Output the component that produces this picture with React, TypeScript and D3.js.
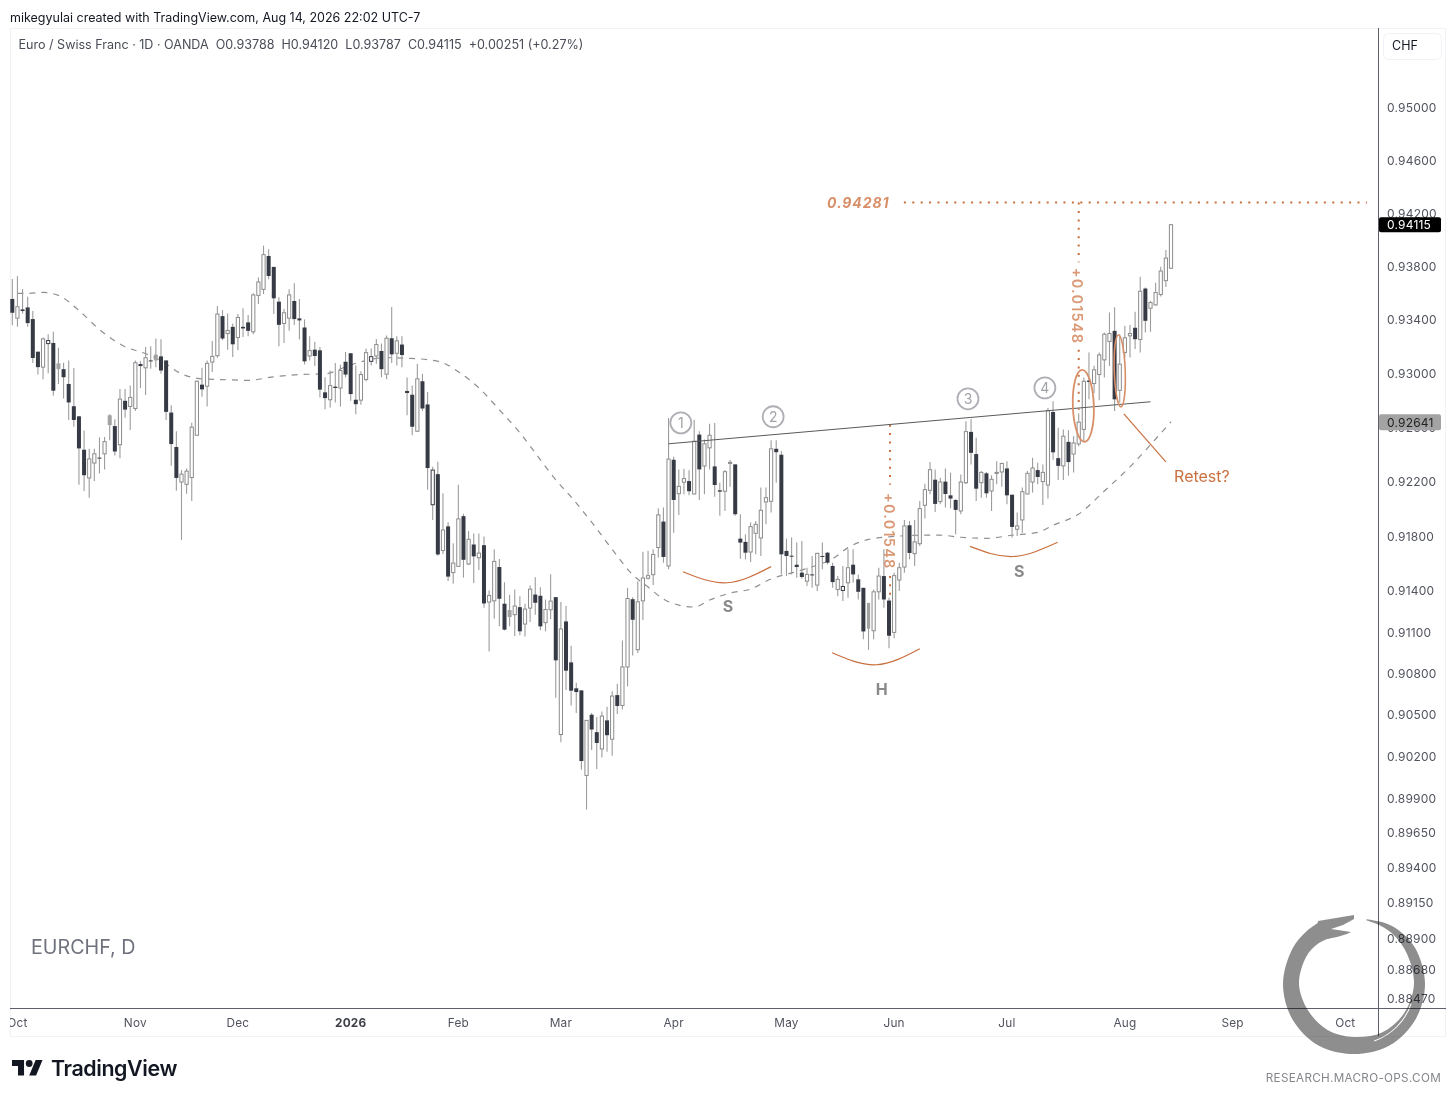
import React, { useRef, useEffect } from 'react';
import * as d3 from 'd3';

// prices are in points (1 point = 0.00001 CHF)
const opens = [93558,93415,93480,93495,93408,93165,93050,93225,93230,93078,
93035,92925,92760,92685,92438,92230,92340,92380,92408,92693,
92613,92475,92800,92758,92743,93073,93045,93100,93143,93130,
93100,92713,92458,92200,92183,92233,92545,92920,92908,93088,
93135,93430,93300,93350,93270,93350,93383,93313,93585,93630,
93880,93798,93538,93375,93415,93543,93413,93345,93133,93180,
93175,92863,92808,92905,92895,93090,93153,92808,92805,92958,
93093,93133,93170,92998,93265,93153,93218,92873,92845,92575,
92945,92773,92033,92258,91697,91874,91535,91581,91949,91598,
91741,91644,91736,91320,91329,91576,91308,91262,91228,91283,
91160,91276,91375,91366,91170,91264,91356,90359,91179,90881,
90693,90678,90064,90502,90376,90255,90461,90325,90644,90569,
90848,91341,90973,91329,91494,91520,91719,91909,91584,92364,
92114,92198,92207,92112,92550,92318,92452,92315,92139,92132,
92337,92330,91784,91760,91686,91823,91789,92053,92058,92445,
92401,91694,91659,91593,91535,91473,91522,91444,91657,91681,
91584,91412,91405,91461,91593,91486,91424,91126,91111,91395,
91510,91331,91099,91481,91576,91882,91674,91747,92029,92139,
92217,92056,92203,92102,92068,91987,92195,92570,92406,92195,
92264,92134,92264,92274,92300,92107,91853,91921,92112,92200,
92288,92203,92178,92717,92376,92319,92496,92406,92481,92588,
92950,92928,92995,93104,93241,93320,92878,93159,93283,93343,
93256,93636,93489,93514,93591,93695,93788];

const highs = [93708,93728,93633,93575,93468,93165,93270,93295,93313,93195,
93083,93100,93043,92688,92580,92445,92445,92530,92533,92700,
92663,92888,92888,92913,93100,93095,93200,93205,93263,93258,
93100,92768,92575,92288,92300,92638,92950,93045,93100,93245,
93505,93475,93450,93375,93445,93488,93438,93600,93718,93958,
93930,93800,93570,93483,93630,93675,93558,93405,93280,93238,
93200,92975,93025,93080,93068,93163,93155,93063,93020,93188,
93188,93260,93225,93285,93498,93280,93280,92973,92913,93075,
93000,92865,92313,92350,92118,91905,91750,92179,91966,91840,
91821,91821,91799,91404,91707,91634,91465,91373,91412,91363,
91308,91441,91501,91429,91339,91523,91356,91320,91291,91002,
90734,90681,90461,90514,90485,90526,90560,90671,90727,91041,
91424,91356,91472,91687,91695,91707,92007,92012,92672,92386,
92293,92298,92286,92660,92575,92513,92631,92636,92195,92288,
92362,92330,91963,91816,91902,91914,92159,92159,92508,92508,
92428,91784,91792,91755,91767,91571,91657,91681,91755,91686,
91608,91510,91584,91706,91706,91522,91424,91314,91412,91571,
91706,91351,91535,91608,91921,91914,91921,92061,92188,92347,
92293,92232,92300,92269,92073,92256,92648,92665,92526,92281,
92274,92249,92354,92342,92354,92105,91975,92159,92281,92379,
92342,92330,92746,92796,92600,92588,92583,92538,92707,92973,
93159,93060,93159,93308,93457,93497,93295,93358,93363,93462,
93725,93643,93544,93680,93800,93924,94120];

const lows = [93362,93350,93450,93350,93080,92995,92960,93005,92838,92925,
92818,92658,92608,92180,92133,92085,92208,92263,92293,92508,
92395,92375,92675,92583,92725,92895,92843,93038,93050,93000,
92658,92320,92135,91775,92113,92060,92545,92830,92758,93013,
93120,93250,93180,93125,93175,93275,93280,93295,93520,93595,
93705,93445,93205,93230,93320,93363,93255,93070,93100,93058,
92825,92738,92750,92788,92758,92975,92800,92700,92770,92945,
93063,93075,92975,92960,93080,93063,93050,92693,92545,92570,
92725,92143,91920,91658,91671,91474,91453,91581,91499,91591,
91460,91554,91278,90961,91199,91143,91114,91143,91073,91078,
91070,91174,91228,91114,91107,91194,90625,90303,90681,90569,
90514,90105,89819,90248,90110,90194,90235,90206,90507,90540,
90707,90932,90949,91189,91484,91445,91646,91608,91559,91828,
91958,92110,92102,92110,92068,92110,92293,92092,91951,91987,
92166,91951,91637,91632,91613,91669,91657,91889,91975,92195,
91522,91510,91522,91498,91493,91437,91424,91400,91559,91596,
91424,91363,91327,91351,91461,91339,91050,90972,91050,91339,
91278,90984,91057,91400,91535,91632,91584,91730,91931,92110,
91980,92036,92012,92007,91816,91963,92183,92330,92061,92085,
92085,91987,92183,92166,92036,91792,91804,91828,92110,92122,
92183,92031,92078,92364,92215,92215,92247,92270,92463,92501,
92811,92856,92804,92973,93059,92724,92786,93122,93122,93184,
93159,93308,93313,93507,93576,93648,93787];

const closes = [93455,93500,93468,93378,93118,93050,93260,93248,92875,93035,
92975,92788,92658,92448,92250,92370,92408,92373,92498,92620,
92425,92813,92735,92825,93083,93058,93120,93095,93100,93025,
92718,92480,92230,92258,92280,92605,92945,92885,93078,93130,
93445,93263,93323,93220,93420,93338,93320,93588,93685,93890,
93730,93563,93365,93455,93588,93408,93398,93093,93173,93133,
92883,92820,92913,92895,93025,92995,92850,92775,92995,93158,
93128,93218,93035,93265,93145,93245,93140,92858,92608,92963,
92743,92303,92288,91668,91847,91506,91605,91929,91629,91779,
91654,91678,91310,91368,91617,91344,91119,91211,91291,91107,
91269,91414,91315,91143,91266,91327,90896,91124,90821,90676,
90666,90168,90461,90395,90298,90492,90354,90637,90565,90848,
91346,91191,91322,91496,91513,91668,91958,91650,92369,92068,
92168,92225,92132,92501,92293,92482,92545,92178,92129,92276,
92345,91963,91755,91681,91872,91889,91992,92085,92445,92420,
91669,91657,91652,91576,91503,91522,91515,91676,91650,91608,
91466,91486,91434,91571,91522,91395,91106,91314,91395,91510,
91339,91075,91513,91571,91877,91679,91760,92004,92144,92291,
92039,92200,92112,92078,91995,92200,92572,92415,92151,92271,
92117,92220,92271,92337,92102,91870,91877,92129,92264,92303,
92237,92271,92726,92419,92319,92538,92347,92488,92642,92945,
92940,93030,93141,93295,93300,92811,93072,93268,93300,93258,
93616,93395,93531,93606,93767,93864,94115];

// candles that render as grey blobs / dark outlines at this zoom
const mutedCandles = [9, 19, 28, 97, 167];
const outlinedCandles = [7, 70, 82, 162];

// dashed moving average, read at a few bars
const maBars = [1,3,6,9,13,17,22,26,29,33,37,42,46,51,56,61,65,68,73,77,81,84,87,91,95,99,103,106,109,113,117,121,124,127,130,133,136,140,144,148,152,156,160,163,167,172,177,181,185,190,195,200,203,208,213,218,222,226];
const maValues = [93600,93600,93607,93585,93472,93330,93202,93150,93098,93000,92963,92956,92952,92978,92995,93000,93052,93090,93120,93116,93105,93082,93015,92896,92734,92563,92364,92216,92090,91905,91705,91520,91430,91342,91298,91284,91335,91386,91415,91489,91533,91578,91637,91718,91778,91800,91809,91809,91794,91786,91809,91830,91882,91964,92134,92312,92475,92645];

const priceTicks = [95000,94600,94200,93800,93400,93000,92600,92200,91800,91400,91100,90800,90500,90200,89900,89650,89400,89150,88900,88680,88470];
const monthLabels = ['Oct','Nov','Dec','2026','Feb','Mar','Apr','May','Jun','Jul','Aug','Sep','Oct'];
const monthBars = [1,24,44,66,87,107,129,151,172,194,217,238,260];

const legendText = 'Euro / Swiss Franc · 1D · OANDA\u00a0\u00a0O0.93788\u00a0\u00a0H0.94120\u00a0\u00a0L0.93787\u00a0\u00a0C0.94115\u00a0\u00a0+0.00251 (+0.27%)';
const lastPrice = 94115;
const necklineTag = 92641;

// drawing annotations, as [bar, price]
const neckline = [[128, 92482], [222, 92793]];
const targetLine = [[173.9, 94281], [264.2, 94281]];
const measureSegments = [
    [[208, 94281], [208, 93833]],
    [[208, 93180], [208, 92733]],
    [[171.2, 92623], [171.2, 92179]],
    [[171.2, 91511], [171.2, 91074]],
];
const measureLabels = [[208, 93506], [171.2, 91838]];
const shoulderArcs = [
    [[130.8, 91542], [139.4, 91461], [148, 91579]],
    [[159.9, 90951], [168.5, 90864], [177, 90980]],
    [[186.8, 91727], [195.2, 91653], [203.9, 91757]],
];
const touchNumbers = ['1', '2', '3', '4'];
const touchBars = [130.4, 148.4, 186.4, 201.4];
const touchPrices = [92637, 92682, 92815, 92896];
const shapeLetters = ['S', 'H', 'S'];
const shapeBars = [139.6, 169.6, 196.4];
const shapePrices = [91291, 90690, 91542];
const retestLine = [[216.8, 92704], [225, 92349]];

// ouroboros watermark: clockwise from 12 o'clock, degrees and radii
const ringAngles = [11, 25, 40, 60, 90, 120, 150, 180, 210, 240, 270, 300, 318, 332];
const ringOuter = [66, 68, 70, 71, 71, 71, 71, 70, 71, 71, 71, 71, 71, 71];
const ringInner = [65, 64, 63, 61, 60, 58, 56, 53, 53, 53, 55, 55, 54, 52];

const ORANGE = '#c9703f';
const ORANGE_SOFT = '#d88f68';
const FONT = 'Inter, "Noto Sans", sans-serif';

const App: React.FC = () => {
    const svgRef = useRef<SVGSVGElement | null>(null);

    useEffect(() => {
        if (!svgRef.current) return;

        const svg = d3.select(svgRef.current);
        svg.selectAll('*').remove();

        const x = d3.scaleLinear().domain([0, 226]).range([12.3, 1171]);
        const y = d3.scaleLog().domain([88470, 95000]).range([999, 107.5]);
        const fmt = (v: number) => (v / 1e5).toFixed(5);
        const pointLine = d3.line<number[]>().x(d => x(d[0])).y(d => y(d[1]));

        svg.append('defs').append('clipPath').attr('id', 'pane')
            .append('rect').attr('x', 10).attr('y', 28).attr('width', 1436).attr('height', 1008);

        // header and frame
        svg.append('text').attr('x', 10).attr('y', 21.5).attr('font-size', 12.5).attr('fill', '#131722')
            .text('mikegyulai created with TradingView.com, Aug 14, 2026 22:02 UTC-7');
        svg.append('rect').attr('x', 10.5).attr('y', 28.5).attr('width', 1435).attr('height', 1008)
            .attr('fill', 'none').attr('stroke', '#f0f2f5');
        svg.append('line').attr('x1', 1378.5).attr('x2', 1378.5).attr('y1', 28).attr('y2', 1036).attr('stroke', '#5d606b');
        svg.append('line').attr('x1', 10).attr('x2', 1446).attr('y1', 1008.5).attr('y2', 1008.5).attr('stroke', '#5d606b');
        svg.append('text').attr('x', 18.5).attr('y', 49).attr('font-size', 12.55).attr('fill', '#4a4d57').text(legendText);

        // dotted measures sit under the candles
        const dots = svg.append('g').attr('fill', 'none').attr('stroke', ORANGE).attr('stroke-width', 2).attr('stroke-dasharray', '2 6.4');
        dots.append('path').attr('d', pointLine(targetLine));
        measureSegments.forEach(seg => dots.append('path').attr('d', pointLine(seg)));

        // moving average
        const maLine = d3.line<number>().x((_, i) => x(maBars[i])).y(d => y(d)).curve(d3.curveMonotoneX);
        svg.append('path').attr('d', maLine(maValues)).attr('fill', 'none')
            .attr('stroke', '#8f8f8f').attr('stroke-width', 1.2).attr('stroke-dasharray', '6 6');

        // candles
        const candle = svg.append('g').selectAll('g').data(opens).join('g');
        candle.append('line')
            .attr('x1', (_, i) => x(i)).attr('x2', (_, i) => x(i))
            .attr('y1', (_, i) => y(highs[i])).attr('y2', (_, i) => y(lows[i]))
            .attr('stroke', '#9c9c9c').attr('stroke-width', 1.1);
        candle.append('rect')
            .attr('x', (_, i) => x(i) - (opens[i] > closes[i] ? 2 : 1.6))
            .attr('width', (_, i) => (opens[i] > closes[i] ? 4 : 3.2))
            .attr('y', (d, i) => y(Math.max(d, closes[i])))
            .attr('height', (d, i) => Math.max(1, y(Math.min(d, closes[i])) - y(Math.max(d, closes[i]))))
            .attr('fill', (d, i) => (mutedCandles.includes(i) ? '#a3a3a3' : d > closes[i] ? '#363a45' : '#ffffff'))
            .attr('stroke', (d, i) => {
                if (mutedCandles.includes(i) || d > closes[i]) return 'none';
                return outlinedCandles.includes(i) ? '#3a3d47' : '#8c8c8c';
            })
            .attr('stroke-width', 1);

        // neckline
        svg.append('path').attr('d', pointLine(neckline)).attr('fill', 'none').attr('stroke', '#5a5a5a').attr('stroke-width', 1);

        // head and shoulders arcs
        const arcLine = d3.line<number[]>().x(d => x(d[0])).y(d => y(d[1])).curve(d3.curveNatural);
        shoulderArcs.forEach(a =>
            svg.append('path').attr('d', arcLine(a)).attr('fill', 'none').attr('stroke', ORANGE).attr('stroke-width', 1.2));
        svg.append('g').selectAll('text').data(shapeLetters).join('text')
            .attr('x', (_, i) => x(shapeBars[i])).attr('y', (_, i) => y(shapePrices[i]))
            .attr('text-anchor', 'middle').attr('dy', '0.36em')
            .attr('font-size', 16).attr('font-weight', 700).attr('fill', '#8a8a8a')
            .text(d => d);

        // numbered touches
        const touch = svg.append('g').selectAll('g').data(touchNumbers).join('g')
            .attr('transform', (_, i) => `translate(${x(touchBars[i])},${y(touchPrices[i])})`);
        touch.append('circle').attr('r', 10.5).attr('fill', 'none').attr('stroke', '#aeb0b5').attr('stroke-width', 1.8);
        touch.append('text').attr('text-anchor', 'middle').attr('dy', '0.36em').attr('font-size', 14)
            .attr('fill', '#a0a2a7').text(d => d);

        // breakout and retest ellipses
        svg.append('ellipse').attr('rx', 10.5).attr('ry', 36).attr('fill', 'none')
            .attr('stroke', ORANGE_SOFT).attr('stroke-width', 1.8)
            .attr('transform', `translate(${x(208.9)},${y(92763)}) rotate(-2)`);
        svg.append('ellipse').attr('rx', 5.5).attr('ry', 36).attr('fill', 'none')
            .attr('stroke', ORANGE_SOFT).attr('stroke-width', 1.6)
            .attr('transform', `translate(${x(216)},${y(93022)}) rotate(-2)`);
        svg.append('path').attr('d', pointLine(retestLine)).attr('fill', 'none').attr('stroke', ORANGE).attr('stroke-width', 1.2);
        svg.append('text').attr('x', x(226.6)).attr('y', y(92200)).attr('font-size', 16).attr('fill', ORANGE).text('Retest?');

        // target labels
        svg.append('text').attr('x', 827).attr('y', y(94281)).attr('dy', '0.36em')
            .attr('font-size', 14).attr('font-weight', 700).attr('font-style', 'italic').attr('letter-spacing', 0.9)
            .attr('fill', ORANGE_SOFT).text('0.94281');
        measureLabels.forEach(([b, p]) => {
            svg.append('text').attr('transform', `translate(${x(b) - 1},${y(p)}) rotate(90)`)
                .attr('text-anchor', 'middle').attr('dy', '0.36em')
                .attr('font-size', 14.5).attr('font-weight', 600).attr('letter-spacing', 1.2)
                .attr('fill', ORANGE_SOFT).attr('fill-opacity', 0.92).text('+0.01548');
        });

        // price axis
        svg.append('g').selectAll('text').data(priceTicks).join('text')
            .attr('x', 1387).attr('y', d => y(d)).attr('dy', '0.36em')
            .attr('font-size', 12).attr('letter-spacing', 0.2).attr('fill', '#51545e')
            .text(d => fmt(d));
        svg.append('rect').attr('x', 1379).attr('y', y(lastPrice) - 7.5).attr('width', 62).attr('height', 15).attr('rx', 2).attr('fill', '#000');
        svg.append('text').attr('x', 1387).attr('y', y(lastPrice)).attr('dy', '0.36em')
            .attr('font-size', 12).attr('letter-spacing', 0.2).attr('fill', '#fff').text(fmt(lastPrice));
        svg.append('rect').attr('x', 1379).attr('y', y(necklineTag) - 8).attr('width', 62).attr('height', 16).attr('rx', 2).attr('fill', '#a3a3a3');
        svg.append('text').attr('x', 1387).attr('y', y(necklineTag)).attr('dy', '0.36em')
            .attr('font-size', 12).attr('letter-spacing', 0.2).attr('fill', '#222').text(fmt(necklineTag));
        svg.append('rect').attr('x', 1383.5).attr('y', 33.5).attr('width', 58).attr('height', 26).attr('rx', 5)
            .attr('fill', '#fff').attr('stroke', '#f0f2f5');
        svg.append('text').attr('x', 1392).attr('y', 50).attr('font-size', 12.5).attr('fill', '#131722').text('CHF');

        // time axis
        svg.append('g').attr('clip-path', 'url(#pane)').selectAll('text').data(monthLabels).join('text')
            .attr('x', (_, i) => x(monthBars[i])).attr('y', 1027).attr('text-anchor', 'middle')
            .attr('font-size', 11.8).attr('letter-spacing', 0.2)
            .attr('font-weight', d => (d === '2026' ? 700 : 400))
            .attr('fill', d => (d === '2026' ? '#3d3f47' : '#51545e'))
            .text(d => d);

        // symbol watermark
        svg.append('text').attr('x', 31).attr('y', 954).attr('font-size', 19.7).attr('fill', '#6f727c').text('EURCHF, D');

        // ouroboros
        const ring = svg.append('g').attr('transform', 'translate(1354,984)').style('mix-blend-mode', 'multiply');
        const ringArea = d3.areaRadial<number>()
            .angle(d => (d * Math.PI) / 180)
            .innerRadius((_, i) => ringInner[i])
            .outerRadius((_, i) => ringOuter[i])
            .curve(d3.curveCatmullRom);
        ring.append('path').attr('d', ringArea(ringAngles)).attr('fill', '#8e8e8e');
        ring.append('path').attr('fill', '#8e8e8e')
            .attr('d', 'M-36,-63L0,-69L0,-65L-11,-59L-23,-55L-3,-52L-7,-50L-17,-47L-27,-45L-40,-42Z');
        ring.append('path').attr('fill', '#fff')
            .attr('d', d3.arc()({ innerRadius: 60, outerRadius: 61, startAngle: 1.9, endAngle: 2.8 }) as string);

        // footer
        svg.append('path').attr('transform', 'translate(12,1056.6) scale(0.86)').attr('fill', '#131722')
            .attr('d', 'M14 22H7V11H0V4h14v18zM28 22h-8l7.5-18h8L28 22z');
        svg.append('circle').attr('cx', 12 + 20 * 0.86).attr('cy', 1056.6 + 8 * 0.86).attr('r', 3.4).attr('fill', '#131722');
        svg.append('text').attr('x', 51).attr('y', 1076).attr('font-size', 21.4).attr('font-weight', 600)
            .attr('letter-spacing', -0.4).attr('fill', '#131722').text('TradingView');
        svg.append('text').attr('x', 1441).attr('y', 1082).attr('text-anchor', 'end').attr('font-size', 11.7)
            .attr('letter-spacing', 0.3).attr('fill', '#85878c').text('RESEARCH.MACRO-OPS.COM');
    }, []);

    return (
        <svg
            ref={svgRef}
            width={1456}
            height={1100}
            style={{ position: 'absolute', left: 0, top: 0, backgroundColor: '#fff', fontFamily: FONT }}
        />
    );
};

export default App;
